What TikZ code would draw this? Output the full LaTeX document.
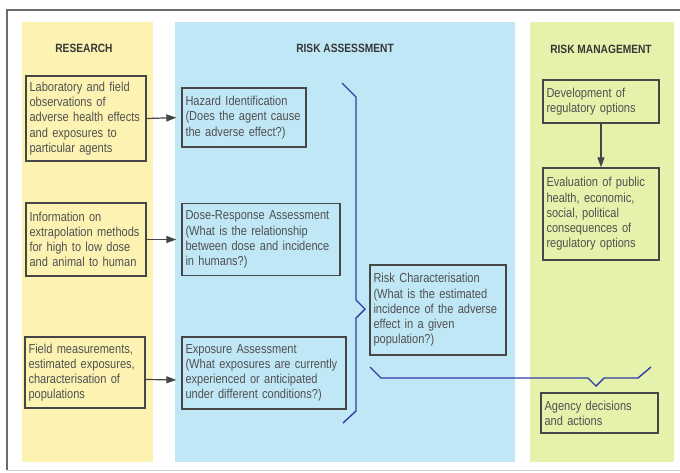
\documentclass[tikz,border=0pt]{standalone}
\usepackage{fontspec}
\setmainfont{Liberation Sans}[FakeStretch=0.85]
\usepackage{xcolor}
\definecolor{rayellow}{RGB}{252,243,178}
\definecolor{rablue}{RGB}{192,231,246}
\definecolor{ragreen}{RGB}{229,242,172}
\definecolor{ragray}{RGB}{70,70,70}
\definecolor{ratext}{RGB}{80,80,80}
\definecolor{rahead}{RGB}{55,55,55}
\definecolor{rabrace}{RGB}{50,60,165}
\usepackage{tikz}
\usetikzlibrary{arrows.meta}

\begin{document}
\begin{tikzpicture}[
    x=1pt, y=-1pt,
    every node/.style={font=\fontsize{13}{15.2}\selectfont, text=ratext},
    head/.style={font=\fontsize{12}{14}\selectfont\bfseries, text=rahead},
    box/.style={draw=ragray, line width=1.4pt, align=left,
                inner xsep=3.5pt, inner ysep=2pt},
    arr/.style={-{Triangle[length=10pt, width=7pt]}, line width=1.2pt, ragray},
    brace/.style={rabrace, line width=1.4pt, line join=miter},
]
\useasboundingbox (0,0) rectangle (680,472);

% ===== frame and column backgrounds =====
\draw[ragray!80, line width=1.5pt] (680,10) -- (7,10) -- (7,470);
\draw[ragray!25, line width=0.8pt] (7,470) -- (680,470);
\fill[rayellow] (22,22) rectangle (153,462);
\fill[rablue]   (175,22) rectangle (515,462);
\fill[ragreen]  (530,22) rectangle (674,462);

% column titles
\node[head] (hres) at (84,48)  {RESEARCH};
\node[head] (hra)  at (345,48) {RISK ASSESSMENT};
\node[head] (hrm)  at (601,49) {RISK MANAGEMENT};

% ===== RESEARCH =====
\node[box, minimum width=120, minimum height=85, text width=113] (res1) at (86,118.5)
      {Laboratory and field\\observations of\\adverse health effects\\and exposures to\\particular agents};
\node[box, minimum width=120, minimum height=73, text width=113] (res2) at (86,239.5)
      {Information on\\extrapolation methods\\for high to low dose\\and animal to human};
\node[box, minimum width=120, minimum height=71, text width=113] (res3) at (85,372.5)
      {Field measurements,\\estimated exposures,\\characterisation of\\populations};

% ===== RISK ASSESSMENT =====
\node[box, minimum width=124, minimum height=59, text width=117] (haz) at (244,117.5)
      {Hazard Identification\\(Does the agent cause\\the adverse effect?)};
\node[box, minimum width=158, minimum height=72, text width=151] (dose) at (261,239.5)
      {Dose-Response Assessment\\(What is the relationship\\between dose and incidence\\in humans?)};
\node[box, minimum width=164, minimum height=72, text width=157] (expo) at (264,373)
      {Exposure Assessment\\(What exposures are currently\\experienced or anticipated\\under different conditions?)};
\node[box, minimum width=136, minimum height=90, text width=129] (char) at (438,310)
      {Risk Characterisation\\(What is the estimated\\incidence of the adverse\\effect in a given\\population?)};

% research -> assessment
\draw[arr, shorten >=5pt] (res1.east) -- (haz.west);
\draw[arr, shorten >=5pt] (res2.east) -- (dose.west);
\draw[arr, shorten >=5pt] ([yshift=-7pt]res3.east) -- ([yshift=-7pt]expo.west);

% braces
\draw[brace] (342,83) -- (356,97) -- (356,300) -- (365,309) -- (356,318)
      -- (356,411) -- (343,423);
\draw[brace] (370,367) -- (381,378) -- (588,378) -- (596,386) -- (604,378)
      -- (638,378) -- (651,367);

% ===== RISK MANAGEMENT =====
\node[box, minimum width=116, minimum height=43, text width=109] (dev) at (601,101.5)
      {Development of\\regulatory options};
\node[box, minimum width=116, minimum height=92, text width=109] (eval) at (601,214)
      {Evaluation of public\\health, economic,\\social, political\\consequences of\\regulatory options};
\node[box, minimum width=117, minimum height=40, text width=110] (agency) at (599.5,413)
      {Agency decisions\\and actions};

\draw[arr] (dev.south) -- (eval.north);

\end{tikzpicture}
\end{document}
